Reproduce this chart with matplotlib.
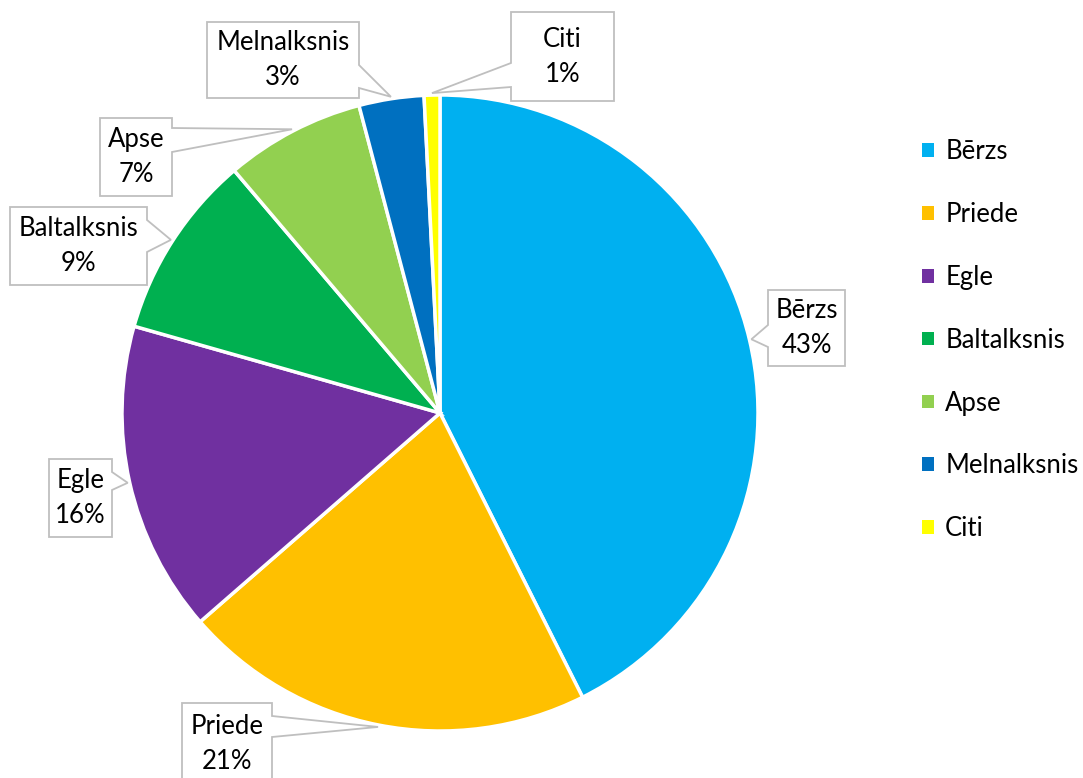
import numpy as np
import matplotlib.pyplot as plt
import matplotlib.patches as mpatches

# data
species = ['Bērzs', 'Priede', 'Egle', 'Baltalksnis', 'Apse', 'Melnalksnis', 'Citi']
shares = [42.6, 21.0, 15.8, 9.4, 7.1, 3.3, 0.8]
colors = ['#00B0F0', '#FFC000', '#7030A0', '#00B050', '#92D050', '#0070C0', '#FFFF00']

W, H = 1083, 778
plt.rcParams['font.family'] = ['Lato', 'DejaVu Sans']
FS = 18.5

fig = plt.figure(figsize=(W / 100, H / 100), dpi=100)
ax = fig.add_axes([0, 0, 1, 1])

cx, cy, R = 440, 413, 318
# y axis inverted below, so start at -90 and go "counterclock" = clockwise on screen
wedges, _ = ax.pie(shares, colors=colors, startangle=-90, counterclock=True,
                   center=(cx, cy), radius=R,
                   wedgeprops=dict(edgecolor='white', linewidth=2.5))
ax.set_xlim(0, W)
ax.set_ylim(H, 0)
ax.set_aspect('auto')
ax.axis('off')

# callout boxes: x0, y0, x1, y1, side of tail, tail base a, b  (pixels)
boxes = [
    (768, 290, 845, 366, 'left', 325, 347),
    (182, 703, 272, 790, 'right', 716, 737),
    (49, 459, 112, 537, 'right', 472, 490),
    (10, 207, 147, 285, 'right', 220, 252),
    (100, 118, 172, 196, 'right', 128, 152),
    (207, 22, 359, 98, 'right', 65, 88),
    (511, 12, 614, 101, 'left', 63, 87),
]

total = sum(shares)
for w, name, val, b in zip(wedges, species, shares, boxes):
    x0, y0, x1, y1, side, a, bb = b
    mid = np.deg2rad((w.theta1 + w.theta2) / 2)
    tx = cx + (R + 2) * np.cos(mid)
    ty = cy + (R + 2) * np.sin(mid)
    if side == 'right':
        pts = [(x0, y0), (x1, y0), (x1, a), (tx, ty), (x1, bb), (x1, y1), (x0, y1)]
    else:
        pts = [(x0, y0), (x1, y0), (x1, y1), (x0, y1), (x0, bb), (tx, ty), (x0, a)]
    ax.add_patch(mpatches.Polygon(pts, closed=True, facecolor='white',
                                  edgecolor='#BFBFBF', linewidth=1.3, zorder=5))
    yc = (y0 + y1) / 2 if y1 <= H else y0 + 41
    ax.text((x0 + x1) / 2, yc, '%s\n%d%%' % (name, round(val / total * 100)),
            ha='center', va='center', fontsize=FS, linespacing=1.5, zorder=6)

handles = [mpatches.Patch(facecolor=c, edgecolor='none') for c in colors]
ax.legend(handles, species, loc='upper left', bbox_to_anchor=(922 / W, 1 - 139 / H),
          bbox_transform=fig.transFigure, frameon=False, fontsize=FS,
          handlelength=0.45, handleheight=0.45, handletextpad=0.45, labelspacing=1.475,
          borderpad=0, borderaxespad=0)

fig.savefig('out.png', dpi=100)
